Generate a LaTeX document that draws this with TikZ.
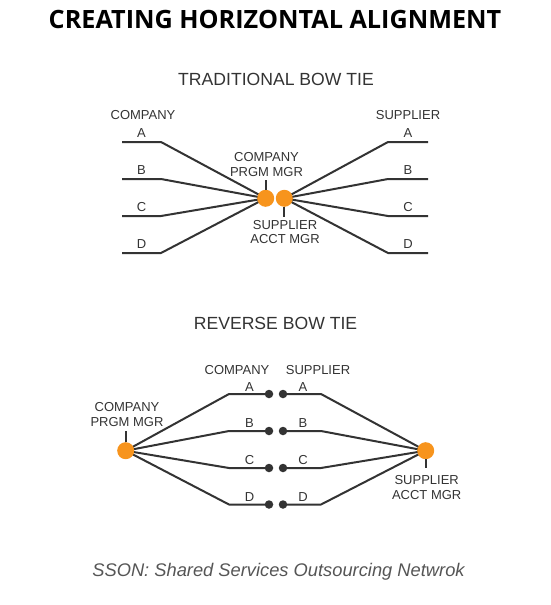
\documentclass[tikz,border=0pt]{standalone}
\usepackage{fontspec}
\setmainfont{Liberation Sans}
\newfontfamily\titlefont{Open Sans}
\usetikzlibrary{backgrounds}
\definecolor{ink}{HTML}{333333}
\definecolor{orng}{HTML}{F7941D}
\definecolor{foot}{HTML}{555555}
\begin{document}
\begin{tikzpicture}[x=1pt,y=-1pt,
  wire/.style={draw=ink, line width=2pt, line join=round},
  tick/.style={draw=ink, line width=2pt},
  odot/.style={circle, fill=orng, minimum size=17pt, inner sep=0pt},
  bdot/.style={circle, fill=ink, minimum size=8.5pt, inner sep=0pt},
  lbl/.style={text=ink, font=\fontsize{13}{14.5}\selectfont, inner sep=0pt, align=center},
  subt/.style={text=ink, font=\fontsize{17.6}{20}\selectfont, inner sep=0pt}]
\useasboundingbox (0,0) rectangle (551,605);

% titles
\node[inner sep=0pt, font=\titlefont\bfseries\fontsize{25.2}{30}\selectfont] (title) at (275,19) {CREATING HORIZONTAL ALIGNMENT};
\node[subt] (sub1) at (276,79.5) {TRADITIONAL BOW TIE};
\node[subt] (sub2) at (275.5,323.5) {REVERSE BOW TIE};
\node[anchor=base, inner sep=0pt, text=foot, font=\itshape\fontsize{18.3}{22}\selectfont] (footer) at (278.5,576.7) {SSON: Shared Services Outsourcing Netwrok};

% ===== Traditional bow tie =====
\node[odot] (cpm) at (265.7,198.3) {};
\node[odot] (sam) at (284.3,198.3) {};
\foreach \n/\y in {A/142,B/179,C/216,D/253}{
  \coordinate (tc0\n) at (122,\y);
  \coordinate (tc1\n) at (161,\y);
  \coordinate (ts0\n) at (428,\y);
  \coordinate (ts1\n) at (388,\y);
  \node[lbl] (tcl\n) at (141.5,\y-9) {\n};
  \node[lbl] (tsl\n) at (408,\y-9) {\n};
}
\begin{scope}[on background layer]
\foreach \n in {A,B,C,D}{
  \draw[wire] (tc0\n) -- (tc1\n) -- (cpm.center);
  \draw[wire] (ts0\n) -- (ts1\n) -- (sam.center);
}
\end{scope}
\node[lbl] (tcomp) at (143,115) {COMPANY};
\node[lbl] (tsupp) at (408,115) {SUPPLIER};
\coordinate (cpmtick) at (265.7,180);
\coordinate (samtick) at (284.3,216.5);
\draw[tick] (cpm.north) -- (cpmtick);
\draw[tick] (sam.south) -- (samtick);
\node[lbl, anchor=south] (cpmlbl) at (266.5,176.5) {COMPANY\\PRGM MGR};
\node[lbl, anchor=north] (samlbl) at (285,220) {SUPPLIER\\ACCT MGR};

% ===== Reverse bow tie =====
\node[odot] (rcpm) at (125.7,450.7) {};
\node[odot] (rsam) at (425.7,450.7) {};
\foreach \n/\y/\ly in {A/394/386.7,B/431/423.5,C/468/460.5,D/504.5/497}{
  \node[bdot] (rk\n) at (269,\y) {};
  \node[bdot] (rs\n) at (283,\y) {};
  \coordinate (rkc\n) at (229,\y);
  \coordinate (rsc\n) at (321,\y);
  \node[lbl] (rkl\n) at (249.5,\ly) {\n};
  \node[lbl] (rsl\n) at (303,\ly) {\n};
}
\begin{scope}[on background layer]
\foreach \n in {A,B,C,D}{
  \draw[wire] (rcpm.center) -- (rkc\n) -- (rk\n.center);
  \draw[wire] (rsam.center) -- (rsc\n) -- (rs\n.center);
}
\end{scope}
\node[lbl] (rcomp) at (237,369.8) {COMPANY};
\node[lbl] (rsupp) at (318,369.8) {SUPPLIER};
\coordinate (rcpmtick) at (125.7,431);
\coordinate (rsamtick) at (425.7,468);
\draw[tick] (rcpm.north) -- (rcpmtick);
\draw[tick] (rsam.south) -- (rsamtick);
\node[lbl, anchor=south] (rcpmlbl) at (127,426.5) {COMPANY\\PRGM MGR};
\node[lbl, anchor=north] (rsamlbl) at (426.7,475.5) {SUPPLIER\\ACCT MGR};
\end{tikzpicture}
\end{document}
